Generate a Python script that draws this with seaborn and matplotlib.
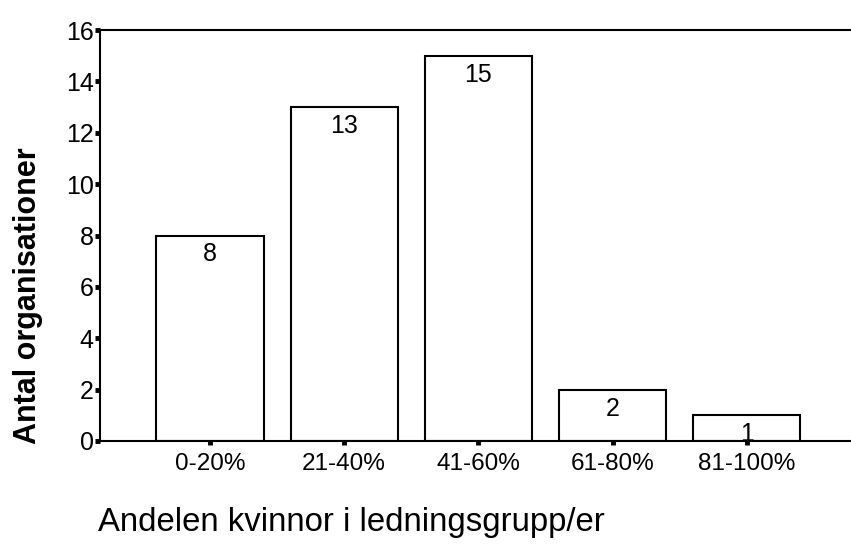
import matplotlib
matplotlib.use("Agg")
import matplotlib.pyplot as plt
import seaborn as sns
import pandas as pd

categories = ["0-20%", "21-40%", "41-60%", "61-80%", "81-100%"]
counts = [8, 13, 15, 2, 1]
y_ticks = [0, 2, 4, 6, 8, 10, 12, 14, 16]

sns.set_theme(style="white")
plt.rcParams["font.family"] = ["Liberation Sans", "DejaVu Sans"]
plt.rcParams["text.color"] = "black"
plt.rcParams["xtick.color"] = "black"
plt.rcParams["ytick.color"] = "black"

df = pd.DataFrame({"grupp": categories, "antal": counts})

fig = plt.figure(figsize=(8.51, 5.45), dpi=100)
ax = fig.add_axes([100 / 851, 104 / 545, 750 / 851, 411 / 545])

sns.barplot(data=df, x="grupp", y="antal", ax=ax, color="white",
            edgecolor="black", linewidth=1.5, width=0.8, saturation=1)

for i, v in enumerate(counts):
    ax.annotate(str(v), (i, v), xytext=(0, -5), textcoords="offset points",
                ha="center", va="top", fontsize=18, color="black")

ax.set_xlim(-0.82, 4.77)
ax.set_ylim(0, 16)
ax.set_yticks(y_ticks)
ax.set_yticklabels([str(t) for t in y_ticks], fontsize=18)
ax.set_xticks(range(len(categories)))
ax.set_xticklabels(categories, fontsize=17.5)

for s in ["left", "bottom", "top"]:
    ax.spines[s].set_visible(True)
    ax.spines[s].set_color("black")
    ax.spines[s].set_linewidth(1.5)
ax.spines["right"].set_visible(False)

ax.tick_params(axis="y", direction="out", length=3.5, width=3.5, pad=1, left=True)
ax.tick_params(axis="x", direction="out", length=3, width=3.5, pad=6, bottom=True)

ax.set_xlabel("")
ax.set_ylabel("")
fig.text(351 / 851, (545 - 523) / 545, "Andelen kvinnor i ledningsgrupp/er",
         fontsize=23.7, ha="center", va="center", color="black")
fig.text(28 / 851, (545 - 296) / 545, "Antal organisationer",
         fontsize=22, fontweight="bold", rotation=90,
         ha="center", va="center", color="black")

fig.savefig("out.png", dpi=100)
